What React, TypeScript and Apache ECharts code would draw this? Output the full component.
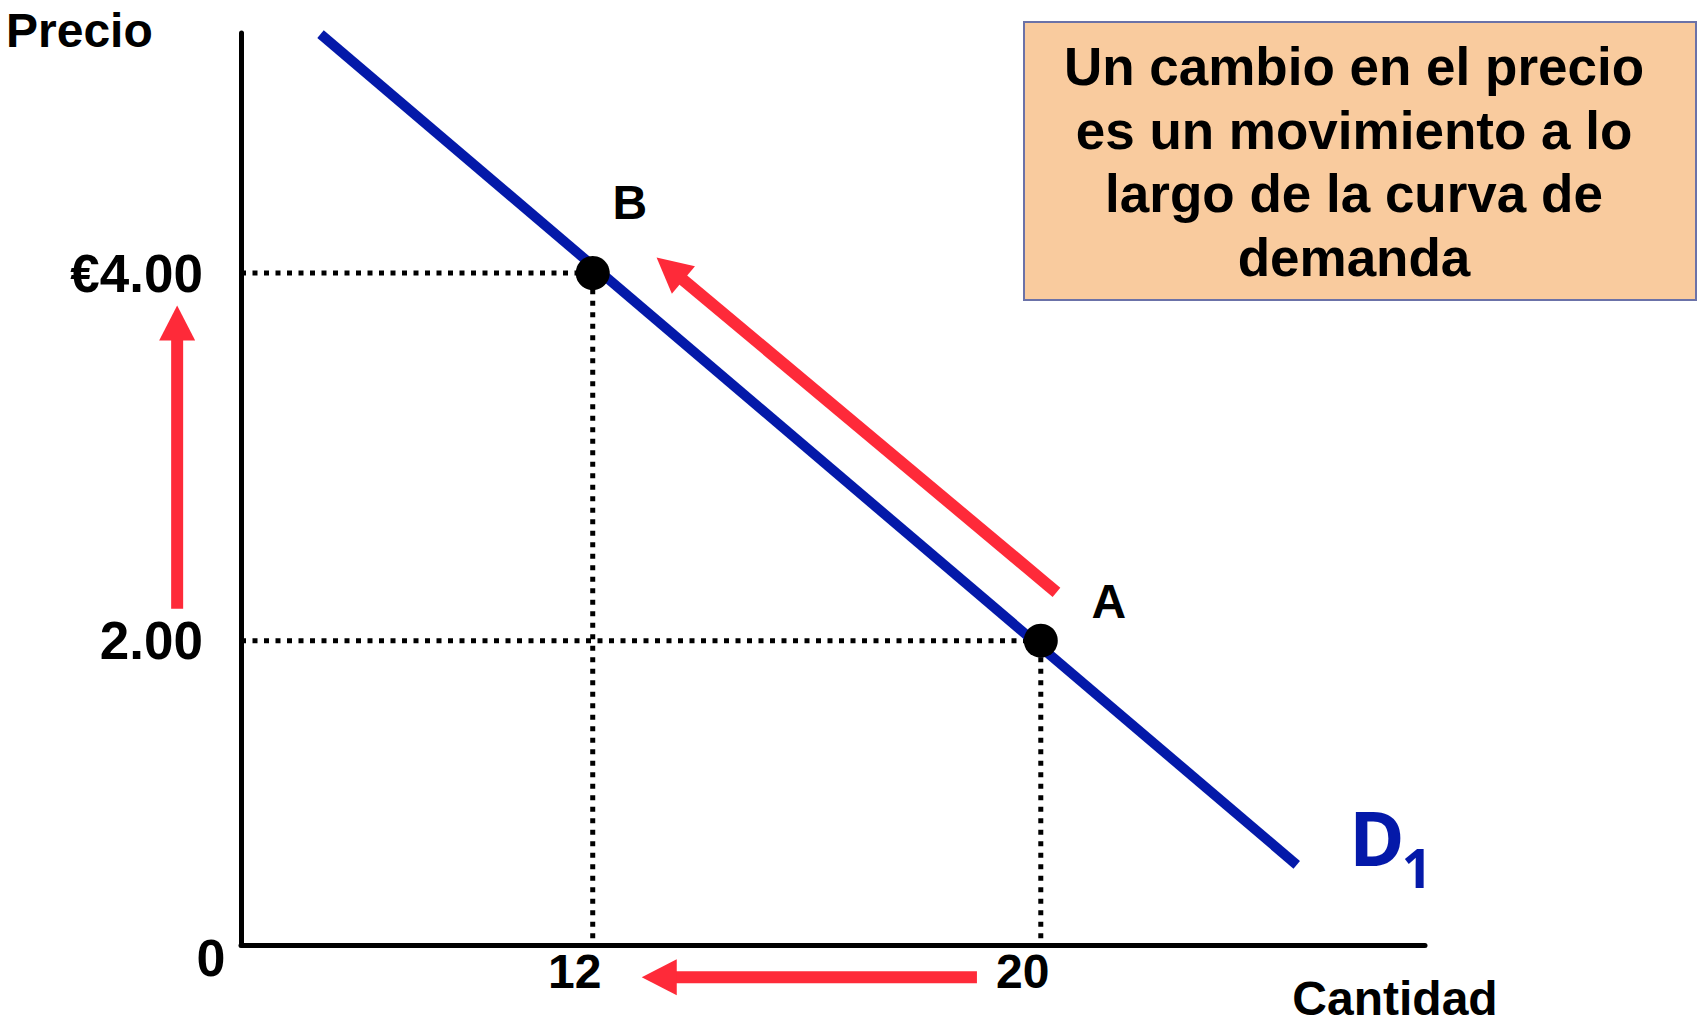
import React, { useEffect, useRef } from "react";
import * as echarts from "echarts";

// ---- data ----
const quantityTicks = [12, 20];
const priceTicks = [2, 4];
const priceTickLabels = ["2.00", "€4.00"];

const pointNames = ["B", "A"];
const pointQuantity = [12, 20];
const pointPrice = [4, 2];

const demandQuantity = [7.14, 24.57];
const demandPrice = [5.3, 0.78];

// arrows: from (quantity, price) to (quantity, price)
const arrowFromQ = [4.58, 18.86, 20.28];
const arrowFromP = [2.174, 0.168, 2.263];
const arrowToQ = [4.58, 12.875, 13.14];
const arrowToP = [3.824, 0.168, 4.084];

const axisQMin = 5.72;
const axisQMax = 26.86;
const axisPMin = 0.344;
const axisPMax = 5.306;

const boxText = "Un cambio en el precio\nes un movimiento a lo\nlargo de la curva de\ndemanda";

// ---- styles ----
const FONT = "'Liberation Sans', Arial, sans-serif";
const RED = "#FE2A39";
const BLUE = "#0419A9";

export default function App() {
  const ref = useRef<HTMLDivElement>(null);

  useEffect(() => {
    if (!ref.current) return;
    const chart = echarts.init(ref.current, undefined, { renderer: "svg" });

    const labelOffsets: Record<string, number[]> = { B: [37, -71], A: [68, -39] };

    const pointsData = pointNames.map((n, i) => ({
      name: n,
      value: [pointQuantity[i], pointPrice[i]],
      label: { offset: labelOffsets[n] },
    }));

    const guideSeries = pointNames.map((n, i) => ({
      type: "line",
      name: "guide-" + n,
      data: [
        [axisQMin, pointPrice[i]],
        [pointQuantity[i], pointPrice[i]],
        [pointQuantity[i], axisPMin],
      ],
      symbol: "none",
      clip: false,
      z: 2,
      lineStyle: { color: "#000", width: 5, type: [5, 6.5], opacity: 1 },
      silent: true,
    }));

    const arrowData = arrowFromQ.map((q, i) => [q, arrowFromP[i], arrowToQ[i], arrowToP[i]]);

    const option: any = {
      animation: false,
      backgroundColor: "#ffffff",
      grid: { left: 241, right: 275, top: 33, bottom: 79 },
      xAxis: {
        type: "value",
        min: axisQMin,
        max: axisQMax,
        axisLine: { show: true, lineStyle: { color: "#000", width: 5 } },
        axisTick: { show: false },
        splitLine: { show: false },
        axisLabel: {
          customValues: quantityTicks,
          margin: 2,
          color: "#000",
          fontSize: 48,
          fontWeight: "bold",
          fontFamily: FONT,
          padding: [0, 36, 0, 0],
          formatter: (v: number) => String(v),
        },
      },
      yAxis: {
        type: "value",
        min: axisPMin,
        max: axisPMax,
        axisLine: { show: true, lineStyle: { color: "#000", width: 5 } },
        axisTick: { show: false },
        splitLine: { show: false },
        axisLabel: {
          customValues: priceTicks,
          margin: 38,
          color: "#000",
          fontSize: 53,
          fontWeight: "bold",
          fontFamily: FONT,
          padding: [0, 0, 7, 0],
          formatter: (v: number) => {
            const idx = priceTicks.indexOf(Math.round(v * 100) / 100);
            return idx >= 0 ? priceTickLabels[idx] : "";
          },
        },
      },
      series: [
        {
          type: "line",
          name: "D1",
          data: demandQuantity.map((q, i) => [q, demandPrice[i]]),
          symbol: "none",
          clip: false,
          z: 3,
          lineStyle: { color: BLUE, width: 10, cap: "butt", opacity: 1 },
          silent: true,
        },
        ...guideSeries,
        {
          type: "custom",
          name: "arrows",
          clip: false,
          z: 4,
          data: arrowData,
          encode: { x: [0, 2], y: [1, 3] },
          renderItem: (_params: any, api: any) => {
            const p1 = api.coord([api.value(0), api.value(1)]);
            const p2 = api.coord([api.value(2), api.value(3)]);
            const dx = p2[0] - p1[0];
            const dy = p2[1] - p1[1];
            const len = Math.hypot(dx, dy);
            const ux = dx / len;
            const uy = dy / len;
            const headLen = 35;
            const headHalf = 18;
            const bx = p2[0] - ux * headLen;
            const by = p2[1] - uy * headLen;
            const nx = -uy;
            const ny = ux;
            return {
              type: "group",
              children: [
                {
                  type: "line",
                  shape: { x1: p1[0], y1: p1[1], x2: bx + ux * 2, y2: by + uy * 2 },
                  style: { stroke: RED, lineWidth: 12, lineCap: "butt" },
                },
                {
                  type: "polygon",
                  shape: {
                    points: [
                      [p2[0], p2[1]],
                      [bx + nx * headHalf, by + ny * headHalf],
                      [bx - nx * headHalf, by - ny * headHalf],
                    ],
                  },
                  style: { fill: RED },
                },
              ],
            };
          },
        },
        {
          type: "scatter",
          name: "points",
          data: pointsData,
          symbol: "circle",
          symbolSize: 34,
          z: 5,
          itemStyle: { color: "#000", opacity: 1 },
          label: {
            show: true,
            position: "inside",
            formatter: "{b}",
            color: "#000",
            opacity: 1,
            fontSize: 48,
            fontWeight: "bold",
            fontFamily: FONT,
          },
          silent: true,
        },
      ],
      graphic: [
        {
          type: "text",
          left: 6,
          top: 6,
          style: { text: "Precio", fill: "#000", font: `bold 48px ${FONT}` },
        },
        {
          type: "text",
          x: 1395,
          y: 998,
          style: {
            text: "Cantidad",
            fill: "#000",
            font: `bold 48px ${FONT}`,
            align: "center",
            verticalAlign: "middle",
          },
        },
        {
          type: "text",
          x: 211,
          y: 958,
          style: {
            text: "0",
            fill: "#000",
            font: `bold 52px ${FONT}`,
            align: "center",
            verticalAlign: "middle",
          },
        },
        {
          type: "text",
          x: 1377,
          y: 837,
          style: {
            text: "D",
            fill: BLUE,
            font: `bold 75px 'Noto Sans', 'Open Sans', sans-serif`,
            align: "center",
            verticalAlign: "middle",
          },
        },
        {
          type: "text",
          x: 1417,
          y: 867,
          style: {
            text: "1",
            fill: BLUE,
            font: `bold 53px 'Noto Sans', 'Open Sans', sans-serif`,
            align: "center",
            verticalAlign: "middle",
          },
        },
        {
          type: "rect",
          shape: { x: 1024, y: 22, width: 672, height: 278 },
          style: { fill: "#F9CB9E", stroke: "#6B72A8", lineWidth: 2 },
          z: 10,
        },
        {
          type: "text",
          x: 1354,
          y: 162,
          z: 11,
          style: {
            text: boxText,
            fill: "#000",
            font: `bold 53px ${FONT}`,
            align: "center",
            verticalAlign: "middle",
            lineHeight: 63.5,
          },
        },
      ],
    };

    chart.setOption(option);
    return () => chart.dispose();
  }, []);

  return (
    <div
      ref={ref}
      style={{ position: "fixed", left: 0, top: 0, width: 1700, height: 1024, background: "#fff" }}
    />
  );
}
